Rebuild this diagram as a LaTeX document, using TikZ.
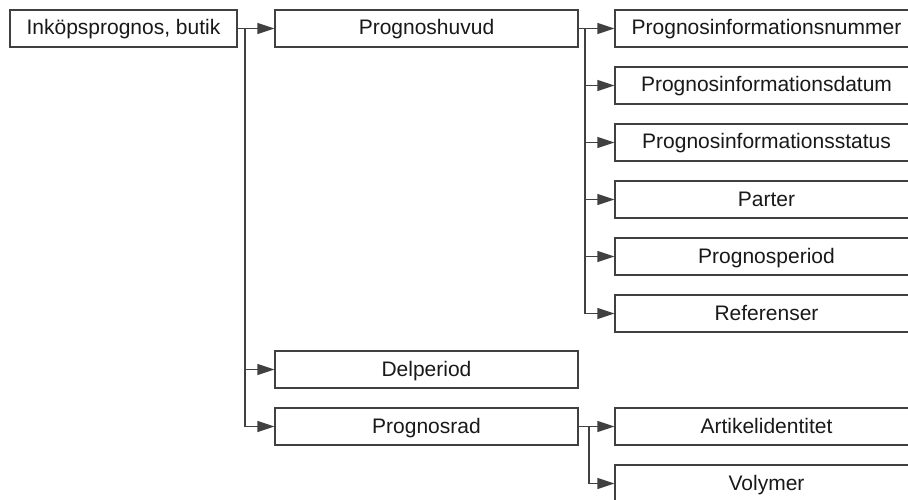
\documentclass[tikz,border=0pt]{standalone}
\usepackage{fontspec}
\setmainfont{Liberation Sans}
\usetikzlibrary{arrows.meta}
\definecolor{edge}{HTML}{404040}
\tikzset{
  box/.style={draw=edge, line width=1.3pt, fill=white, minimum height=37pt, inner sep=0pt,
    text height=17pt, text depth=4pt,
    font=\fontsize{21}{25}\selectfont, text=black!90},
  wide/.style={box, minimum width=303pt},
  conn/.style={draw=edge, line width=1.3pt},
  arr/.style={conn, -{Triangle[length=17pt,width=11pt]}, shorten >=0pt}
}
\begin{document}
\begin{tikzpicture}[x=1pt,y=-1pt]
\useasboundingbox (0,0) rectangle (908,500);
\clip (0,0) rectangle (908,500);
\node[box, minimum width=227pt] (b1) at (123.5,28.5) {Inköpsprognos, butik};
\node[wide] (hv) at (426.5,28.5) {Prognoshuvud};
\node[wide] (dp) at (426.5,369.5) {Delperiod};
\node[wide] (pr) at (426.5,426.5) {Prognosrad};
\node[wide] (r1) at (766.5,28.5) {Prognosinformationsnummer};
\node[wide] (r2) at (766.5,85.5) {Prognosinformationsdatum};
\node[wide] (r3) at (766.5,142.5) {Prognosinformationsstatus};
\node[wide] (r4) at (766.5,199.5) {Parter};
\node[wide] (r5) at (766.5,256.5) {Prognosperiod};
\node[wide] (r6) at (766.5,313.5) {Referenser};
\node[wide] (a1) at (766.5,426.5) {Artikelidentitet};
\node[wide] (a2) at (766.5,483.5) {Volymer};
\coordinate (j1) at (245,28.5);
\coordinate (j2) at (585,28.5);
\coordinate (j3) at (589,426.5);
\draw[arr] (b1.east) -- (hv.west);
\draw[arr] (j1) |- (dp.west);
\draw[arr] (j1) |- (pr.west);
\draw[arr] (hv.east) -- (r1.west);
\draw[arr] (j2) |- (r2.west);
\draw[arr] (j2) |- (r3.west);
\draw[arr] (j2) |- (r4.west);
\draw[arr] (j2) |- (r5.west);
\draw[arr] (j2) |- (r6.west);
\draw[arr] (pr.east) -- (a1.west);
\draw[arr] (j3) |- (a2.west);
\end{tikzpicture}
\end{document}
